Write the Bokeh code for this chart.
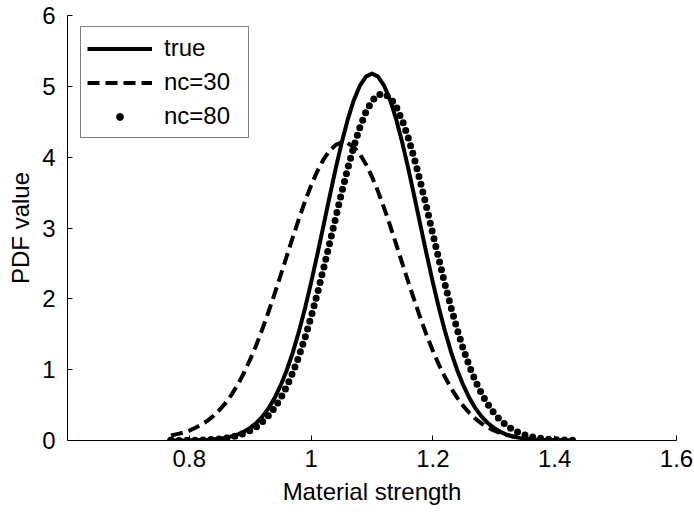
from bokeh.plotting import figure
from bokeh.models import Range1d, FixedTicker, Legend, LegendItem
from bokeh.embed import file_html
from bokeh.resources import INLINE

# ---- data ----
strength = [0.77, 0.78, 0.79, 0.80, 0.81, 0.82, 0.83, 0.84, 0.85, 0.86,
            0.87, 0.88, 0.89, 0.90, 0.91, 0.92, 0.93, 0.94, 0.95, 0.96,
            0.97, 0.98, 0.99, 1.00, 1.01, 1.02, 1.03, 1.04, 1.05, 1.06,
            1.07, 1.08, 1.09, 1.10, 1.11, 1.12, 1.13, 1.14, 1.15, 1.16,
            1.17, 1.18, 1.19, 1.20, 1.21, 1.22, 1.23, 1.24, 1.25, 1.26,
            1.27, 1.28, 1.29, 1.30, 1.31, 1.32, 1.33, 1.34, 1.35, 1.36,
            1.37, 1.38, 1.39, 1.40, 1.41, 1.42, 1.43]

pdf_true = [0.0005, 0.0009, 0.0016, 0.0026, 0.0043, 0.0070, 0.0111, 0.0173, 0.0266, 0.0403,
            0.0598, 0.0874, 0.126, 0.178, 0.247, 0.337, 0.453, 0.598, 0.777, 0.992,
            1.245, 1.538, 1.867, 2.229, 2.616, 3.019, 3.427, 3.824, 4.195, 4.526,
            4.801, 5.008, 5.137, 5.18, 5.137, 5.008, 4.801, 4.526, 4.195, 3.824,
            3.427, 3.019, 2.616, 2.229, 1.867, 1.538, 1.245, 0.992, 0.777, 0.598,
            0.453, 0.337, 0.247, 0.178, 0.126, 0.0874, 0.0598, 0.0403, 0.0266, 0.0173,
            0.0111, 0.0070, 0.0043, 0.0026, 0.0016, 0.0009, 0.0005]

pdf_nc30 = [0.07, 0.09, 0.11, 0.14, 0.18, 0.225, 0.28, 0.35, 0.435, 0.535,
            0.655, 0.796, 0.960, 1.145, 1.349, 1.573, 1.814, 2.069, 2.333, 2.602,
            2.870, 3.130, 3.376, 3.601, 3.798, 3.962, 4.088, 4.170, 4.208, 4.199,
            4.143, 4.043, 3.901, 3.723, 3.514, 3.280, 3.027, 2.763, 2.494, 2.227,
            1.966, 1.716, 1.481, 1.265, 1.068, 0.892, 0.737, 0.602, 0.486, 0.388,
            0.307, 0.239, 0.185, 0.141, 0.107, 0.080, 0.059, 0.043, 0.031, 0.022,
            0.016, 0.011, 0.0076, 0.0052, 0.0035, 0.0023, 0.0015]

pdf_nc80 = [0.0006, 0.0009, 0.0015, 0.0025, 0.0040, 0.0063, 0.0098, 0.0150, 0.0226, 0.0336,
            0.0491, 0.0707, 0.100, 0.140, 0.193, 0.262, 0.350, 0.461, 0.597, 0.763,
            0.960, 1.189, 1.451, 1.744, 2.065, 2.409, 2.768, 3.133, 3.492, 3.834,
            4.148, 4.419, 4.638, 4.794, 4.882, 4.897, 4.838, 4.708, 4.513, 4.262,
            3.964, 3.632, 3.278, 2.914, 2.551, 2.201, 1.870, 1.565, 1.290, 1.047,
            0.838, 0.660, 0.512, 0.392, 0.295, 0.219, 0.160, 0.115, 0.0815, 0.0569,
            0.0391, 0.0265, 0.0177, 0.0116, 0.0075, 0.0048, 0.0030]

x_ticks = [0.8, 1.0, 1.2, 1.4, 1.6]
x_tick_labels = ["0.8", "1", "1.2", "1.4", "1.6"]
y_ticks = [0, 1, 2, 3, 4, 5, 6]
y_tick_labels = ["0", "1", "2", "3", "4", "5", "6"]
series_labels = ["true", "nc=30", "nc=80"]

FONT = "Liberation Sans"
FS = "24px"

p = figure(width=694, height=514, output_backend="svg", toolbar_location=None,
           x_range=Range1d(0.6, 1.6), y_range=Range1d(0, 6),
           min_border_left=67, min_border_right=18, min_border_top=15,
           min_border_bottom=74)
p.outline_line_color = None
p.grid.visible = False
p.background_fill_color = "white"
p.border_fill_color = "white"

r_true = p.line(strength, pdf_true, line_color="black", line_width=4,
                line_join="round")
r_30 = p.line(strength, pdf_nc30, line_color="black", line_width=4,
              line_dash="12 6")
r_80 = p.line(strength, pdf_nc80, line_color="black", line_width=7,
              line_dash="0 8", line_cap="round", line_join="round")
# single marker (first nc=80 point, already covered by the dotted curve) used for the legend glyph
r_80_leg = p.scatter(x=strength[:1], y=pdf_nc80[:1], marker="circle", size=7,
                     fill_color="black", line_color="black")

p.xaxis.ticker = FixedTicker(ticks=x_ticks)
p.xaxis.major_label_overrides = dict(zip(x_ticks, x_tick_labels))
p.yaxis.ticker = FixedTicker(ticks=y_ticks)
p.yaxis.major_label_overrides = dict(zip(y_ticks, y_tick_labels))

for ax in (p.xaxis[0], p.yaxis[0]):
    ax.axis_line_color = "black"
    ax.axis_line_width = 1
    ax.major_tick_in = 5
    ax.major_tick_out = 0
    ax.major_tick_line_color = "black"
    ax.minor_tick_line_color = None
    ax.major_label_text_font = FONT
    ax.major_label_text_font_size = FS
    ax.major_label_text_color = "black"
    ax.axis_label_text_font = FONT
    ax.axis_label_text_font_size = FS
    ax.axis_label_text_font_style = "normal"
    ax.axis_label_text_color = "black"

p.xaxis.axis_label = "Material strength"
p.yaxis.axis_label = "PDF value"
p.xaxis.major_label_standoff = 9
p.yaxis.major_label_standoff = 12
p.xaxis.axis_label_standoff = 8
p.yaxis.axis_label_standoff = 5

legend = Legend(items=[LegendItem(label=series_labels[0], renderers=[r_true]),
                       LegendItem(label=series_labels[1], renderers=[r_30]),
                       LegendItem(label=series_labels[2], renderers=[r_80_leg])],
                location=(13, 302), glyph_width=65, glyph_height=17,
                label_height=30, label_width=78, label_standoff=12,
                spacing=4, padding=6, margin=0,
                border_line_color="black", border_line_width=1,
                background_fill_color="white", background_fill_alpha=1,
                label_text_font=FONT, label_text_font_size=FS,
                label_text_color="black")
p.add_layout(legend)

open("out.html", "w").write(file_html(p, INLINE))
